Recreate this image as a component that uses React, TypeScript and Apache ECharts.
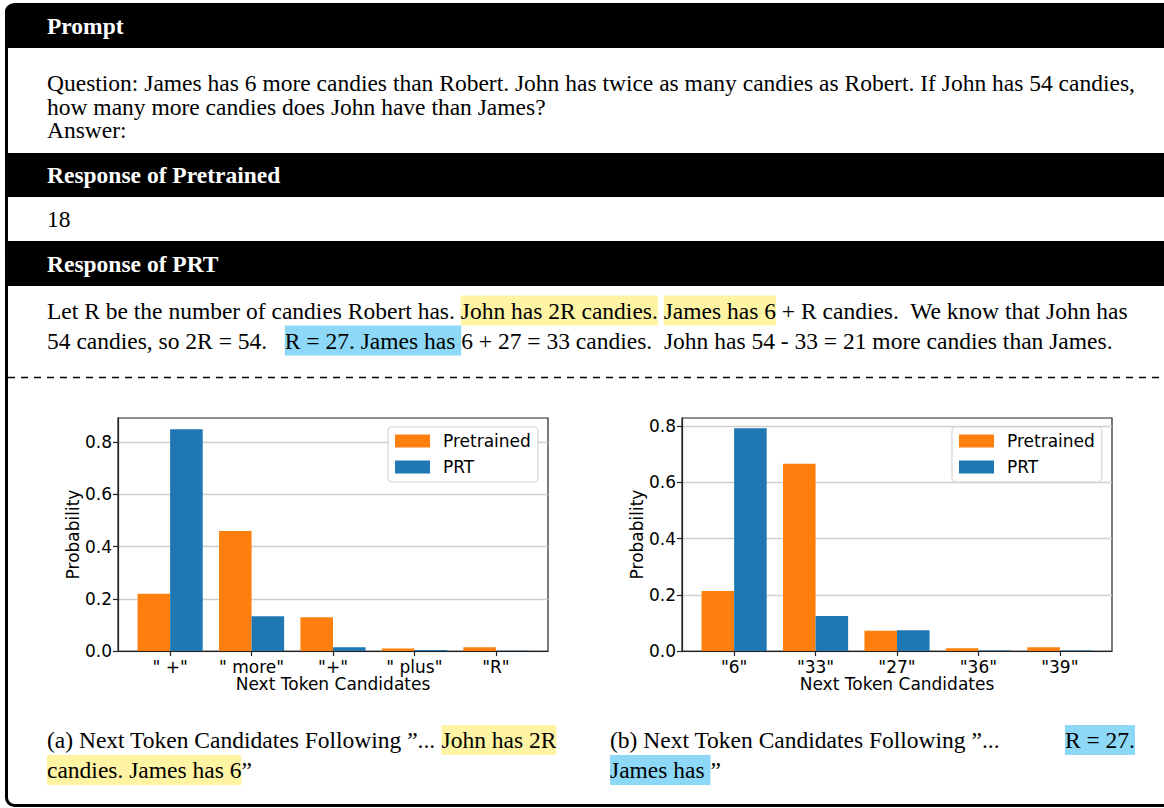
import React, { useEffect, useRef } from 'react';
import * as echarts from 'echarts';

// ---------- data ----------
const seriesNames = ['Pretrained', 'PRT'];
const leftCategories = ['" +"', '" more"', '"+"', '" plus"', '"R"'];
const leftPretrained = [0.219, 0.46, 0.129, 0.01, 0.014];
const leftPRT = [0.849, 0.133, 0.014, 0.004, 0.001];
const rightCategories = ['"6"', '"33"', '"27"', '"36"', '"39"'];
const rightPretrained = [0.214, 0.667, 0.072, 0.01, 0.013];
const rightPRT = [0.793, 0.125, 0.074, 0.002, 0.002];
const yTicks = [0, 0.2, 0.4, 0.6, 0.8];
const xTicks = [0, 1, 2, 3, 4];
const leftYMax = 0.8925;
const rightYMax = 0.8295;
const xMin = -0.64;
const xMax = 4.64;
const BAR_W = 0.4;

const promptLines = [
  'Question: James has 6 more candies than Robert. John has twice as many candies as Robert. If John has 54 candies,',
  'how many more candies does John have than James?',
  'Answer:',
];
const pretrainedAnswer = '18';
const prtLine1 = [
  ['n', 'Let R be the number of candies Robert has. '],
  ['y', 'John has 2R candies.'],
  ['n', ' '],
  ['y', 'James has 6'],
  ['n', ' + R candies.  We know that John has'],
];
const prtLine2 = [
  ['n', '54 candies, so 2R = 54.   '],
  ['b', 'R = 27. James has '],
  ['n', '6 + 27 = 33 candies.  John has 54 - 33 = 21 more candies than James.'],
];
const capA1 = [
  ['n', '(a) Next Token Candidates Following \u201D... '],
  ['y', 'John has 2R'],
];
const capA2 = [
  ['y', 'candies. James has 6'],
  ['n', '\u201D'],
];
const capB1 = [['n', '(b) Next Token Candidates Following \u201D...']];
const capB1r = [['b', 'R = 27.']];
const capB2 = [
  ['b', 'James has '],
  ['n', '\u201D'],
];

const ORANGE = '#ff7f0e';
const BLUE = '#1f77b4';
const YELLOW_HL = '#fff4a3';
const BLUE_HL = '#8dd8f7';
const SERIF = '"Liberation Serif", "Times New Roman", serif';
const SANS = '"DejaVu Sans", sans-serif';
const FS = 23.5;

const rich = {
  n: { fontSize: FS, fontFamily: SERIF, fill: '#000' },
  y: { fontSize: FS, fontFamily: SERIF, fill: '#000', backgroundColor: YELLOW_HL, padding: [3, 0, 3, 0] },
  b: { fontSize: FS, fontFamily: SERIF, fill: '#000', backgroundColor: BLUE_HL, padding: [3, 0, 3, 0] },
};

const richText = (parts: string[][]) => parts.map(([k, t]) => `{${k}|${t}}`).join('');

function textEl(x: number, y: number, text: string, opts: any = {}) {
  return {
    type: 'text',
    x,
    y,
    z: 10,
    style: {
      text,
      fill: opts.fill || '#000',
      font: `${opts.bold ? 'bold ' : ''}${FS}px ${SERIF}`,
      verticalAlign: 'middle',
      align: opts.align || 'left',
    },
  };
}
function richEl(x: number, y: number, parts: string[][], align = 'left') {
  return {
    type: 'text',
    x,
    y,
    z: 10,
    style: {
      text: richText(parts),
      font: `${FS}px ${SERIF}`,
      fill: '#000',
      verticalAlign: 'middle',
      align,
      rich,
    },
  };
}

const grids = [
  { left: 118, top: 418, width: 430, height: 233 },
  { left: 682, top: 418, width: 430, height: 233 },
];
const catSets = [leftCategories, rightCategories];
const yMaxes = [leftYMax, rightYMax];
const legendLefts = [388, 952];

function makeSeries(name: string, values: number[], gi: number, offset: number, color: string) {
  return {
    type: 'custom',
    name,
    xAxisIndex: gi,
    yAxisIndex: gi,
    data: values.map((v, i) => [i, v]),
    encode: { x: 0, y: 1 },
    itemStyle: { color },
    renderItem: (params: any, api: any) => {
      const c = api.value(0);
      const v = api.value(1);
      const p0 = api.coord([c + offset, 0]);
      const p1 = api.coord([c + offset + BAR_W, v]);
      return {
        type: 'rect',
        shape: { x: p0[0], y: p1[1], width: p1[0] - p0[0], height: p0[1] - p1[1] },
        style: { fill: color },
      };
    },
  };
}

export default function App() {
  const ref = useRef<HTMLDivElement>(null);
  useEffect(() => {
    document.body.style.margin = '0';
    if (!ref.current) return;
    const chart = echarts.init(ref.current, undefined, { renderer: 'svg' });
    const axisText = { fontSize: 17, fontFamily: SANS, color: '#000' };
    const option: any = {
      animation: false,
      backgroundColor: '#fff',
      grid: grids.map((g) => ({
        ...g,
        show: true,
        borderColor: '#222',
        borderWidth: 1.2,
        backgroundColor: 'rgba(0,0,0,0)',
      })),
      xAxis: grids.map((g, i) => ({
        type: 'value',
        gridIndex: i,
        min: xMin,
        max: xMax,
        splitLine: { show: false },
        axisLine: { show: true, onZero: false, lineStyle: { color: '#222', width: 1.2 } },
        axisTick: { show: true, customValues: xTicks, length: 5, lineStyle: { color: '#222', width: 1.2 } },
        axisLabel: {
          customValues: xTicks,
          formatter: (v: number) => catSets[i][Math.round(v)],
          ...axisText,
          margin: 7,
        },
        name: 'Next Token Candidates',
        nameLocation: 'middle',
        nameGap: 23,
        nameTextStyle: axisText,
      })),
      yAxis: grids.map((g, i) => ({
        type: 'value',
        gridIndex: i,
        min: 0,
        max: yMaxes[i],
        interval: 0.2,
        splitLine: { show: true, lineStyle: { color: '#cfcfcf', width: 1.3 } },
        axisLine: { show: true, onZero: false, lineStyle: { color: '#222', width: 1.2 } },
        axisTick: { show: true, customValues: yTicks, length: 5, lineStyle: { color: '#222', width: 1.2 } },
        axisLabel: {
          customValues: yTicks,
          formatter: (v: number) => v.toFixed(1),
          ...axisText,
          margin: 6,
        },
        name: 'Probability',
        nameLocation: 'middle',
        nameGap: 31,
        nameTextStyle: axisText,
      })),
      legend: grids.map((g, i) => ({
        data: seriesNames,
        orient: 'vertical',
        left: legendLefts[i],
        top: 427,
        itemWidth: 35,
        itemHeight: 13,
        itemGap: 6,
        icon: 'rect',
        padding: [4, 7, 5, 7],
        backgroundColor: '#fff',
        borderColor: '#d6d6d6',
        borderWidth: 1.2,
        borderRadius: 4,
        selectedMode: false,
        textStyle: { fontSize: 17, fontFamily: SANS, color: '#000', lineHeight: 20, padding: [0, 0, 0, 8] },
      })),
      series: [
        makeSeries(seriesNames[0], leftPretrained, 0, -BAR_W, ORANGE),
        makeSeries(seriesNames[1], leftPRT, 0, 0, BLUE),
        makeSeries(seriesNames[0], rightPretrained, 1, -BAR_W, ORANGE),
        makeSeries(seriesNames[1], rightPRT, 1, 0, BLUE),
      ],
      graphic: [
        { type: 'rect', z: 5, shape: { x: 5, y: 4, width: 1200, height: 44, r: [8, 0, 0, 0] }, style: { fill: '#000' } },
        { type: 'rect', z: 5, shape: { x: 5, y: 153, width: 1200, height: 44 }, style: { fill: '#000' } },
        { type: 'rect', z: 5, shape: { x: 5, y: 241, width: 1200, height: 45 }, style: { fill: '#000' } },
        {
          type: 'rect',
          z: 6,
          shape: { x: 6.5, y: 4.5, width: 1200, height: 801, r: 8 },
          style: { fill: 'none', stroke: '#000', lineWidth: 3 },
        },
        {
          type: 'line',
          z: 5,
          shape: { x1: 8, y1: 377.5, x2: 1164, y2: 377.5 },
          style: { stroke: '#000', lineWidth: 1.4, lineDash: [7, 6] },
        },
        textEl(47, 26, 'Prompt', { bold: true, fill: '#fff' }),
        textEl(47, 83, promptLines[0]),
        textEl(47, 106.5, promptLines[1]),
        textEl(47, 130, promptLines[2]),
        textEl(47, 175, 'Response of Pretrained', { bold: true, fill: '#fff' }),
        textEl(47, 219, pretrainedAnswer),
        textEl(47, 263.5, 'Response of PRT', { bold: true, fill: '#fff' }),
        richEl(47, 310.5, prtLine1),
        richEl(47, 340.5, prtLine2),
        richEl(47, 740, capA1),
        richEl(47, 770, capA2),
        richEl(610, 740, capB1),
        richEl(1135, 740, capB1r, 'right'),
        richEl(610, 770, capB2),
      ],
    };
    chart.setOption(option);
    return () => chart.dispose();
  }, []);
  return <div ref={ref} style={{ width: 1164, height: 808 }} />;
}
